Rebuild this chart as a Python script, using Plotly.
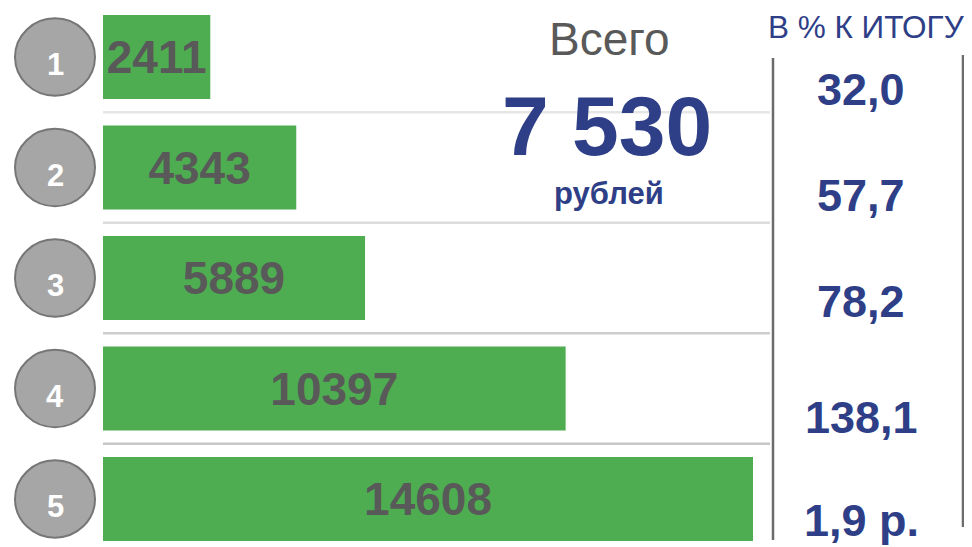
import plotly.graph_objects as go

# ---- data ----
categories = ["1", "2", "3", "4", "5"]
values = [2411, 4343, 5889, 10397, 14608]
share_labels = ["32,0", "57,7", "78,2", "138,1", "1,9 р."]
header_right = "В % К ИТОГУ"
total_title = "Всего"
total_value = "7 530"
total_unit = "рублей"

# ---- style / layout constants ----
W, H = 972, 547
OFF = 8  # page body margin offset
FONT = "Liberation Sans, Arial, sans-serif"
GREEN = "#4EAD50"
BLUE = "#2E3F87"
GRAY_TXT = "#595959"
PLOT_L, PLOT_R = 103 - OFF, 770 - OFF
PX_PER_UNIT = 650 / 14608.0


def px(x):
    return (x - OFF) / W


def py(y):
    return 1 - (y - OFF) / H


fig = go.Figure()
fig.add_trace(go.Bar(
    x=values,
    y=categories,
    orientation="h",
    marker=dict(color=GREEN, line=dict(width=0)),
    text=[str(v) for v in values],
    textposition="inside",
    insidetextanchor="middle",
    textangle=0,
    constraintext="none",
    textfont=dict(family=FONT, size=46, color=GRAY_TXT, weight="bold"),
    cliponaxis=False,
    hoverinfo="skip",
))

shapes = []
# separators between rows
sep_colors = ["#efefef", "#e6e6e6", "#dcdcdc", "#cdcdcd", "#c6c6c6"]
for k, c in zip(range(-1, len(categories) - 1), sep_colors):
    shapes.append(dict(type="line", xref="paper", yref="y",
                       x0=PLOT_L / W, x1=PLOT_R / W, y0=k + 0.5, y1=k + 0.5,
                       line=dict(color=c, width=2.5), layer="below"))
# numbered circles
for i, c in enumerate(categories):
    shapes.append(dict(type="circle", xref="paper", yref="y",
                       x0=px(15), x1=px(95), y0=i - 0.35, y1=i + 0.35,
                       fillcolor="#A6A6A6", line=dict(color="#767676", width=2)))
# vertical rules
shapes.append(dict(type="line", xref="paper", yref="paper",
                   x0=px(773), x1=px(773), y0=py(540), y1=py(58),
                   line=dict(color="#6B6B6B", width=2.5)))
shapes.append(dict(type="line", xref="paper", yref="paper",
                   x0=px(963), x1=px(963), y0=py(527), y1=py(55),
                   line=dict(color="#6B6B6B", width=2.5)))

annotations = []
for i, c in enumerate(categories):
    annotations.append(dict(xref="paper", yref="y", x=px(55), y=i + 0.07,
                            text=f"<b>{c}</b>", showarrow=False,
                            xanchor="center", yanchor="middle",
                            font=dict(family=FONT, size=31, color="white")))

share_y = [89, 195, 301, 417, 520]
for lab, yy in zip(share_labels, share_y):
    annotations.append(dict(xref="paper", yref="paper", x=px(861), y=py(yy),
                            text=f"<b>{lab}</b>", showarrow=False,
                            xanchor="center", yanchor="middle",
                            font=dict(family=FONT, size=45, color=BLUE)))

annotations += [
    dict(xref="paper", yref="paper", x=px(866), y=py(27), text=header_right,
         showarrow=False, xanchor="center", yanchor="middle",
         font=dict(family=FONT, size=31.5, color=BLUE)),
    dict(xref="paper", yref="paper", x=px(609), y=py(39), text=total_title,
         showarrow=False, xanchor="center", yanchor="middle",
         font=dict(family=FONT, size=46, color=GRAY_TXT)),
    dict(xref="paper", yref="paper", x=px(607), y=py(126), text=f"<b>{total_value}</b>",
         showarrow=False, xanchor="center", yanchor="middle",
         font=dict(family=FONT, size=84, color=BLUE)),
    dict(xref="paper", yref="paper", x=px(609), y=py(193), text=f"<b>{total_unit}</b>",
         showarrow=False, xanchor="center", yanchor="middle",
         font=dict(family=FONT, size=31, color=BLUE)),
]

row_step = 110.5
first_center = 57 - OFF
fig.update_layout(
    width=W, height=H,
    margin=dict(l=0, r=0, t=0, b=0),
    paper_bgcolor="white", plot_bgcolor="white",
    showlegend=False,
    bargap=1 - 84 / row_step,
    xaxis=dict(domain=[PLOT_L / W, PLOT_R / W],
               range=[0, (PLOT_R - PLOT_L) / PX_PER_UNIT],
               visible=False, fixedrange=True),
    yaxis=dict(domain=[0, 1], type="category",
               categoryorder="array", categoryarray=categories,
               range=[(H - first_center) / row_step, -first_center / row_step],
               visible=False, fixedrange=True),
    shapes=shapes,
    annotations=annotations,
)

fig.write_html("out.html")
